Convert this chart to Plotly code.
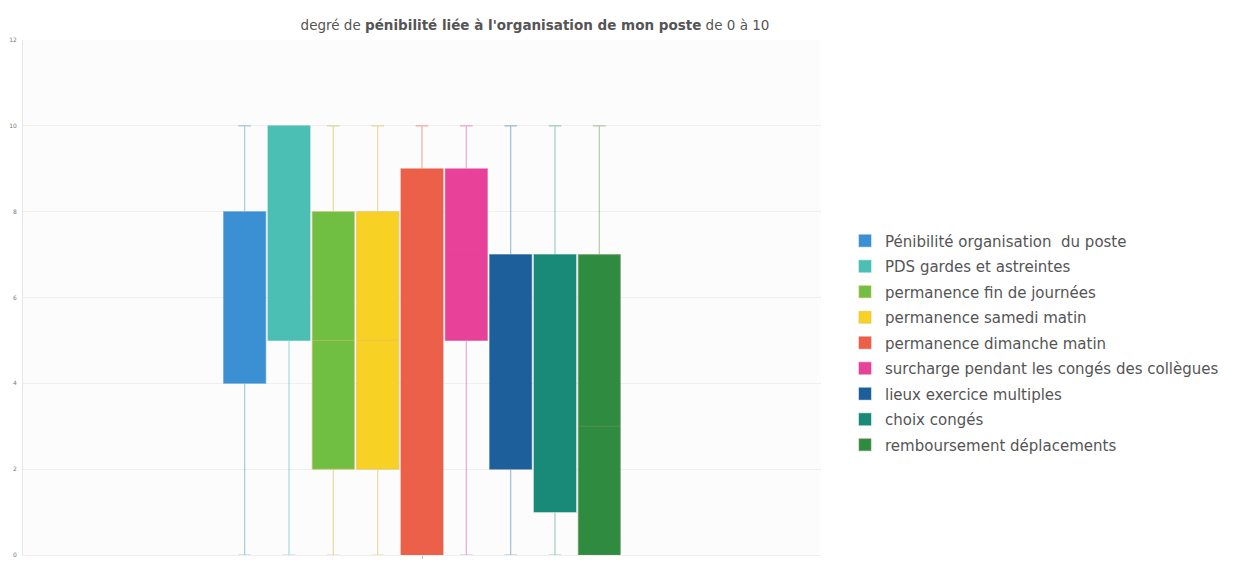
import plotly.graph_objects as go

# Box statistics per item (score from 0 to 10)
series_names = [
    "Pénibilité organisation  du poste",
    "PDS gardes et astreintes",
    "permanence fin de journées",
    "permanence samedi matin",
    "permanence dimanche matin",
    "surcharge pendant les congés des collègues",
    "lieux exercice multiples",
    "choix congés",
    "remboursement déplacements",
]
lower_fence = [0, 0, 0, 0, 0, 0, 0, 0, 0]
q1_values = [4, 5, 2, 2, 0, 5, 2, 1, 0]
median_values = [6, 5.5, 5, 5, 5, 7, 4, 4.3, 3]
q3_values = [8, 10, 8, 8, 9, 9, 7, 7, 7]
upper_fence = [10, 10, 10, 10, 10, 10, 10, 10, 10]

fill_colors = [
    "#3b8fd3", "#4cbfb4", "#70be42", "#f7d224", "#ec5f48",
    "#e7419a", "#1d5f9b", "#188a77", "#2f8b3f",
]
whisker_colors = [
    "rgba(59,143,211,0.45)", "rgba(76,191,180,0.5)", "rgba(200,190,90,0.55)",
    "rgba(230,190,80,0.55)", "rgba(236,95,72,0.5)", "rgba(231,65,154,0.45)",
    "rgba(29,95,155,0.4)", "rgba(24,138,119,0.4)", "rgba(120,150,100,0.5)",
]

y_ticks = [0, 2, 4, 6, 8, 10, 12]
category = [""]

fig = go.Figure()
for i, name in enumerate(series_names):
    fig.add_trace(go.Box(
        name=name,
        x=category,
        lowerfence=[lower_fence[i]],
        q1=[q1_values[i]],
        median=[median_values[i]],
        q3=[q3_values[i]],
        upperfence=[upper_fence[i]],
        fillcolor=fill_colors[i],
        line=dict(color=whisker_colors[i], width=1.2),
        whiskerwidth=0.3,
        legendgroup=f"g{i}",
        boxpoints=False,
    ))

fig.update_layout(
    width=1238,
    height=567,
    margin=dict(l=22, r=417, t=40, b=9),
    paper_bgcolor="#ffffff",
    plot_bgcolor="#fcfcfc",
    boxmode="group",
    boxgap=0.0,
    boxgroupgap=0.05,
    font=dict(family="DejaVu Sans, sans-serif", color="#555555"),
    title=dict(
        text="degré de <b>pénibilité liée à l'organisation de mon poste</b> de 0 à 10",
        x=535 / 1238,
        xanchor="center",
        y=1 - 25 / 567,
        yanchor="middle",
        font=dict(size=13.5, color="#555555"),
    ),
    xaxis=dict(
        type="category",
        range=[-1, 1],
        showgrid=False,
        showticklabels=False,
        zeroline=False,
        ticks="outside",
        ticklen=3,
        tickcolor="#bbbbbb",
        linecolor="#eeeeee",
        showline=True,
    ),
    yaxis=dict(
        range=[0, 12],
        tickvals=y_ticks,
        ticktext=[str(v) for v in y_ticks],
        tickfont=dict(size=6, color="#777777"),
        gridcolor="#efefef",
        gridwidth=1,
        zeroline=False,
        showline=True,
        linecolor="#e6e6e6",
        ticklabelstandoff=4,
    ),
    legend=dict(
        x=845 / 1238,
        xref="container",
        y=1 - 343 / 567,
        yref="container",
        yanchor="middle",
        xanchor="left",
        font=dict(size=15, color="#555555"),
        tracegroupgap=3,
        bgcolor="rgba(255,255,255,0)",
        itemwidth=30,
    ),
)

fig.write_html("out.html")
